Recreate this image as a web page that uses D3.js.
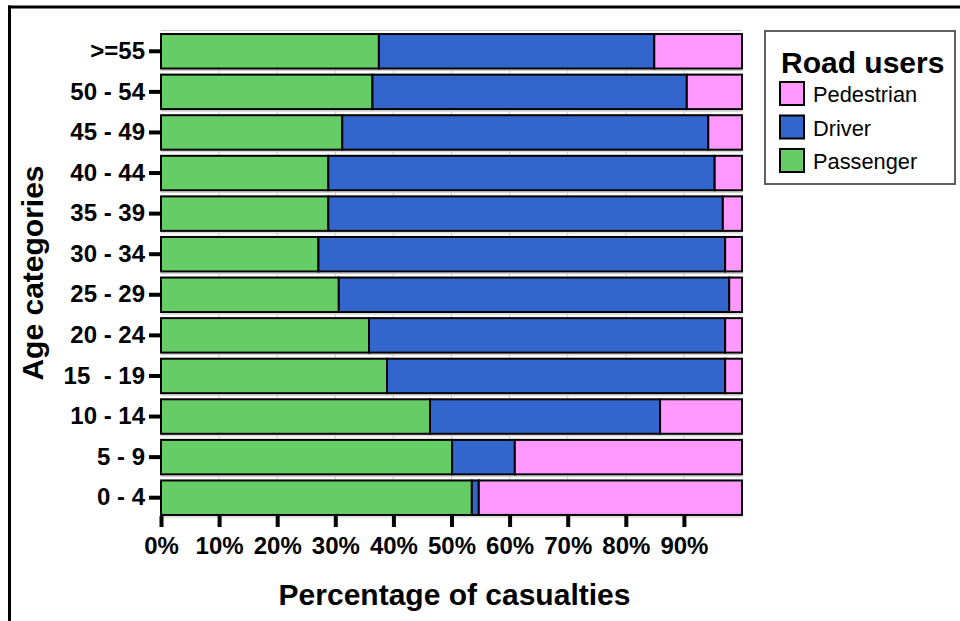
<!DOCTYPE html>
<html>
<head>
<meta charset="utf-8">
<script src="https://cdn.jsdelivr.net/npm/d3@7"></script>
<style>
  html, body { margin: 0; padding: 0; background: #fff; }
  svg { display: block; font-family: "Liberation Sans", Arial, sans-serif; }
</style>
</head>
<body>
<svg id="chart" width="960" height="621"></svg>
<script>
// ---- data (top to bottom as displayed) ----
const categories = [">=55", "50 - 54", "45 - 49", "40 - 44", "35 - 39", "30 - 34",
                    "25 - 29", "20 - 24", "15  - 19", "10 - 14", "5 - 9", "0 - 4"];
const passenger  = [37.5, 36.4, 31.2, 28.8, 28.8, 27.1, 30.6, 35.8, 38.9, 46.3, 50.1, 53.5];
const driver     = [47.4, 54.1, 63.0, 66.5, 67.9, 70.0, 67.2, 61.3, 58.2, 39.6, 10.8, 1.2];
const pedestrian = [15.1, 9.5, 5.8, 4.7, 3.3, 2.9, 2.2, 2.9, 2.9, 14.1, 39.1, 45.3];
const seriesKeys = ["Passenger", "Driver", "Pedestrian"];
const legendOrder = ["Pedestrian", "Driver", "Passenger"];
const xTicks = [0, 10, 20, 30, 40, 50, 60, 70, 80, 90];

const colors = { Passenger: "#66cc66", Driver: "#3366cc", Pedestrian: "#ff99ff" };

const rows = categories.map((c, i) => ({
  cat: c, Passenger: passenger[i], Driver: driver[i], Pedestrian: pedestrian[i]
}));

const svg = d3.select("#chart");

// outer frame (top and left edges visible)
svg.append("line").attr("x1", 8).attr("x2", 960).attr("y1", 7).attr("y2", 7)
  .attr("stroke", "#000").attr("stroke-width", 3);
svg.append("line").attr("x1", 9.5).attr("x2", 9.5).attr("y1", 5.5).attr("y2", 621)
  .attr("stroke", "#000").attr("stroke-width", 3);

const x = d3.scaleLinear().domain([0, 100]).range([161, 742]);
const y = d3.scaleBand().domain(categories).range([31, 518])
  .paddingInner(0.15).paddingOuter(0.075);

// faint grid (grey baselines with small ticks under each bar)
const grid = svg.append("g");
grid.append("line").attr("x1", x(0)).attr("x2", x(100))
  .attr("y1", 30.5).attr("y2", 30.5).attr("stroke", "#c8c8c8").attr("stroke-width", 1);
categories.forEach(c => {
  const yb = y(c) + y.bandwidth() + 2;
  grid.append("line").attr("x1", x(0)).attr("x2", x(100))
    .attr("y1", yb).attr("y2", yb).attr("stroke", "#c8c8c8").attr("stroke-width", 1);
  xTicks.slice(1).forEach(t => {
    grid.append("line").attr("x1", x(t)).attr("x2", x(t))
      .attr("y1", yb).attr("y2", yb + 3).attr("stroke", "#c8c8c8").attr("stroke-width", 1);
  });
});

// stacked bars
const stack = d3.stack().keys(seriesKeys)(rows);
svg.append("g").selectAll("g").data(stack).join("g")
  .attr("fill", d => colors[d.key])
  .selectAll("rect").data(d => d).join("rect")
  .attr("x", d => x(d[0]))
  .attr("width", d => x(d[1]) - x(d[0]))
  .attr("y", d => y(d.data.cat))
  .attr("height", y.bandwidth())
  .attr("stroke", "#000")
  .attr("stroke-width", 2);

// y axis
const yAxis = svg.append("g").attr("transform", "translate(161,0)")
  .call(d3.axisLeft(y).tickSize(12).tickPadding(4));
yAxis.select(".domain").remove();
yAxis.selectAll(".tick line").attr("stroke", "#000").attr("stroke-width", 4);
yAxis.selectAll(".tick text")
  .attr("font-size", 24).attr("font-weight", "bold").attr("fill", "#000")
  .style("white-space", "pre").attr("font-family", "Liberation Sans, Arial, sans-serif");

// x axis
const xAxis = svg.append("g").attr("transform", "translate(0,516)")
  .call(d3.axisBottom(x).tickValues(xTicks).tickSize(11).tickPadding(10)
    .tickFormat(d => d + "%"));
xAxis.select(".domain").remove();
xAxis.selectAll(".tick line").attr("stroke", "#000").attr("stroke-width", 4);
xAxis.selectAll(".tick text")
  .attr("font-size", 24).attr("font-weight", "bold").attr("fill", "#000")
  .attr("font-family", "Liberation Sans, Arial, sans-serif");

// axis titles
svg.append("text").attr("x", (x(0) + x(100)) / 2 + 3).attr("y", 605)
  .attr("text-anchor", "middle").attr("font-size", 30).attr("font-weight", "bold")
  .text("Percentage of casualties");
svg.append("text").attr("transform", "translate(43,273) rotate(-90)")
  .attr("text-anchor", "middle").attr("font-size", 30).attr("font-weight", "bold")
  .text("Age categories");

// legend
const lg = svg.append("g");
lg.append("rect").attr("x", 765).attr("y", 31).attr("width", 190).attr("height", 153)
  .attr("fill", "#fff").attr("stroke", "#606060").attr("stroke-width", 2);
lg.append("text").attr("x", 781).attr("y", 73).attr("font-size", 30).attr("font-weight", "bold")
  .text("Road users");
legendOrder.forEach((k, i) => {
  const yy = 82 + i * 33.5;
  lg.append("rect").attr("x", 780).attr("y", yy).attr("width", 24).attr("height", 23)
    .attr("fill", colors[k]).attr("stroke", "#000").attr("stroke-width", 2);
  lg.append("text").attr("x", 813).attr("y", yy + 20).attr("font-size", 21.8)
    .text(k);
});
</script>
</body>
</html>
